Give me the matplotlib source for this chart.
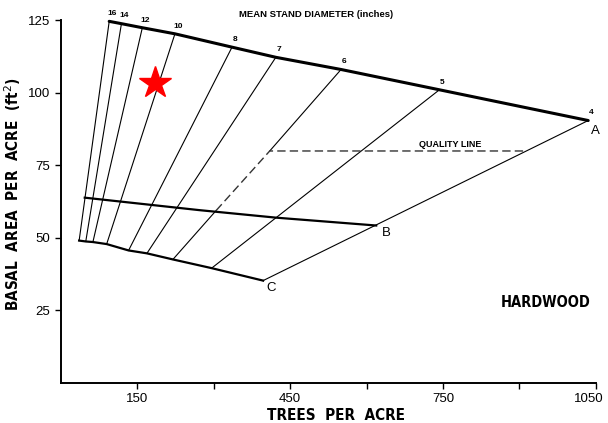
import matplotlib
matplotlib.use('Agg')
import matplotlib.pyplot as plt
import matplotlib.transforms as mtransforms

# Mean stand diameter lines (inches)
diameters = [16, 14, 12, 10, 8, 7, 6, 5, 4]
# where each diameter line meets the A-line (top)
top_tpa = [95, 119, 160, 224, 336, 422, 550, 743, 1035]
top_ba = [124.7, 123.9, 122.5, 120.4, 115.8, 112.3, 108.1, 101.1, 90.5]
# where each diameter line meets the C-line (bottom)
bottom_tpa = [36, 49, 63, 90, 133, 169, 220, 296, 397]
bottom_ba = [49.1, 48.8, 48.6, 47.9, 45.7, 44.7, 42.6, 39.6, 35.3]

# B-line
b_tpa = [47, 272, 423, 619]
b_ba = [63.9, 59.6, 57.0, 54.3]

# Quality line: up the 6 inch line from the B-line, then across
quality_tpa = [305, 410, 914]
quality_ba = [59.5, 80, 80]

# Example stand
star_tpa = [185]
star_ba = [103.6]

plt.rcParams['font.family'] = ['Liberation Sans', 'DejaVu Sans']
bold_font = dict(family=['DejaVu Sans'], fontweight='bold', fontstretch='condensed')

fig = plt.figure(figsize=(6.08, 4.23), dpi=100)
ax = fig.add_axes([0.100, 0.0946, 0.880, 0.857])

# diameter lines
for d, x0, y0, x1, y1 in zip(diameters, top_tpa, top_ba, bottom_tpa, bottom_ba):
    if d == 6:
        # this one is dashed between the B-line and the quality line
        ax.plot([x0, quality_tpa[1]], [y0, quality_ba[1]], color='black', lw=0.8, clip_on=False)
        ax.plot([quality_tpa[0], x1], [quality_ba[0], y1], color='black', lw=0.8, clip_on=False)
    else:
        ax.plot([x0, x1], [y0, y1], color='black', lw=0.8, clip_on=False)
    ax.annotate(str(d), (x0, y0), xytext=(2, 3), textcoords='offset points',
                ha='center', va='bottom', fontsize=6, fontweight='bold')

# A, B and C lines
ax.plot(top_tpa, top_ba, color='black', lw=2.2, clip_on=False, solid_capstyle='round')
ax.plot(b_tpa, b_ba, color='black', lw=1.6)
ax.plot(bottom_tpa, bottom_ba, color='black', lw=1.6)

ax.plot(quality_tpa, quality_ba, color='#333333', lw=1.0, ls=(0, (6, 3)))

ax.text(top_tpa[-1] + 5, top_ba[-1] - 1.5, 'A', ha='left', va='top', fontsize=9.5)
ax.text(b_tpa[-1] + 12, b_ba[-1] - 0.5, 'B', ha='left', va='top', fontsize=9.5)
ax.text(bottom_tpa[-1] + 6, bottom_ba[-1] - 0.5, 'C', ha='left', va='top', fontsize=9.5)

ax.plot(star_tpa, star_ba, marker='*', color='red', markersize=24, ls='none')

ax.text(500, 127.2, 'MEAN STAND DIAMETER (inches)', ha='center', va='center',
        fontsize=6.8, fontweight='bold', clip_on=False)
ax.text(765, 82.3, 'QUALITY LINE', ha='center', va='center', fontsize=6.5, fontweight='bold')
ax.text(951, 27.8, 'HARDWOOD', ha='center', va='center', fontsize=10.5, **bold_font)

ax.set_xlim(0, 1050)
ax.set_ylim(0, 125)
ax.set_xticks([150, 300, 450, 600, 750, 900, 1050])
ax.set_xticklabels(['150', '', '450', '', '750', '', '1050'])
ax.set_yticks([25, 50, 75, 100, 125])
ax.tick_params(labelsize=9.5, length=4, width=1)

# nudge the last tick label so it stays inside the figure
last = ax.get_xticklabels()[-1]
last.set_transform(last.get_transform() + mtransforms.ScaledTranslation(-5 / 72, 0, fig.dpi_scale_trans))

ax.spines['top'].set_visible(False)
ax.spines['right'].set_visible(False)
ax.spines['left'].set_linewidth(1.4)
ax.spines['bottom'].set_linewidth(1.4)

ax.set_xlabel('TREES  PER  ACRE', fontsize=11, labelpad=1, **bold_font)
ax.set_ylabel('BASAL  AREA  PER  ACRE  (ft$^2$)', fontsize=11, labelpad=8, **bold_font)
ax.xaxis.set_label_coords(0.515, -0.07)
ax.yaxis.set_label_coords(-0.07, 0.52)

fig.savefig('out.png', dpi=100)
